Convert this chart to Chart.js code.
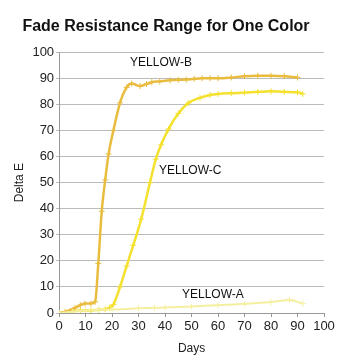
<!DOCTYPE html>
<html>
<head>
<meta charset="utf-8">
<script src="https://cdn.jsdelivr.net/npm/chart.js@4.4.0/dist/chart.umd.min.js"></script>
<style>
  html, body { margin: 0; padding: 0; background: #fff; }
  #wrap { width: 360px; height: 360px; }
</style>
</head>
<body>
<div id="wrap"><canvas id="myChart"></canvas></div>
<script>
// data
const daysB = [0, 2.3, 6, 8, 9.8, 12, 13.6, 14.8, 16.1, 17.4, 18.7, 20.5, 23, 25.5, 27.4, 30.6, 33, 35, 38, 41.9, 45, 48, 51, 54, 57, 60, 65, 70, 75, 80, 85, 90];
const yellowB = [0, 0.5, 2, 3, 3.6, 3.6, 4.3, 19, 39, 51, 61, 70, 80.6, 86.5, 88, 87, 87.8, 88.5, 88.8, 89.2, 89.4, 89.5, 89.8, 90, 90, 90, 90.3, 90.8, 91, 91, 90.8, 90.3];

const daysC = [0, 4, 8, 12, 15, 17.4, 19, 20.5, 23, 25.5, 28, 31, 34.3, 36.5, 38.5, 41.3, 45, 48.8, 53.2, 57, 60, 65, 70, 75, 80, 85, 90, 92];
const yellowC = [0, 0.5, 1, 1, 1.2, 1.4, 2, 3.3, 10, 18, 26, 36, 50, 59, 64.5, 70.5, 76.5, 80.5, 82.5, 83.6, 84, 84.3, 84.5, 84.8, 85, 84.8, 84.6, 84];

const daysA = [0, 5, 10, 15, 20, 30, 36, 40, 50, 60, 70, 80, 87, 92];
const yellowA = [0, 0.5, 1, 1.2, 1.3, 1.8, 2, 2.1, 2.5, 3, 3.5, 4.2, 5, 3.6];

const seriesNames = ['YELLOW-A', 'YELLOW-B', 'YELLOW-C'];
// where each name is written, in chart units [day, deltaE]
const labelSpots = [[46.4, 7], [26.8, 96], [37.7, 54.6]];

function pts(xs, ys) {
  return xs.map(function(x, i) { return { x: x, y: ys[i] }; });
}

// writes the series names onto the plot
const seriesLabels = {
  id: 'seriesLabels',
  afterDatasetsDraw: function(chart) {
    const ctx = chart.ctx;
    const xs = chart.scales.x, ys = chart.scales.y;
    ctx.save();
    ctx.font = '12px Arial, "Liberation Sans", sans-serif';
    ctx.fillStyle = '#111';
    ctx.textBaseline = 'middle';
    ctx.textAlign = 'left';
    seriesNames.forEach(function(name, i) {
      ctx.fillText(name, xs.getPixelForValue(labelSpots[i][0]), ys.getPixelForValue(labelSpots[i][1]));
    });
    ctx.restore();
  }
};

window.onload = function() {
  const font = { family: 'Arial, "Liberation Sans", sans-serif', size: 13 };
  const line = function(label, data, color, width) {
    return {
      label: label,
      data: data,
      borderColor: color,
      backgroundColor: color,
      borderWidth: width,
      pointStyle: 'cross',
      pointRadius: 3,
      pointBorderWidth: 1,
      pointBorderColor: color,
      cubicInterpolationMode: 'monotone',
      fill: false
    };
  };

  let myChart = new Chart(document.getElementById('myChart'), {
    type: 'line',
    data: {
      datasets: [
        line(seriesNames[0], pts(daysA, yellowA), '#f5efa0', 2),
        line(seriesNames[1], pts(daysB, yellowB), '#e9bc3e', 2.5),
        line(seriesNames[2], pts(daysC, yellowC), '#f4e12e', 2.5)
      ]
    },
    options: {
      responsive: true,
      maintainAspectRatio: false,
      animation: false,
      layout: { padding: { top: 6, right: 36, bottom: 0, left: 8 } },
      plugins: {
        legend: { display: false },
        tooltip: { enabled: false },
        title: {
          display: true,
          text: 'Fade Resistance Range for One Color',
          color: '#111',
          font: { family: font.family, size: 16, weight: 'bold' },
          padding: { top: 11, bottom: 16 }
        }
      },
      scales: {
        x: {
          type: 'linear',
          min: 0, max: 100,
          ticks: { stepSize: 10, color: '#222', font: font, maxRotation: 0, padding: 2 },
          grid: { drawOnChartArea: false, drawTicks: true, tickLength: 4, color: '#999' },
          border: { color: '#999' },
          title: { display: true, text: 'Days', color: '#222', font: { family: font.family, size: 12 }, padding: { top: 5 } }
        },
        y: {
          min: 0, max: 100,
          ticks: { stepSize: 10, color: '#222', font: font, padding: 2 },
          grid: { color: '#bbb', tickLength: 3 },
          border: { color: '#999' },
          title: { display: true, text: 'Delta E', color: '#222', font: { family: font.family, size: 12 }, padding: { bottom: 4 } }
        }
      }
    },
    plugins: [seriesLabels]
  });
};
</script>
</body>
</html>
